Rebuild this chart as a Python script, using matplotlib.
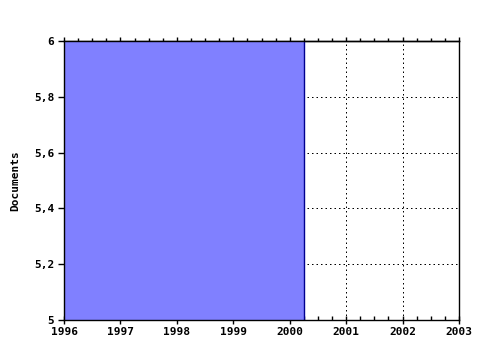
import matplotlib
matplotlib.use("Agg")
import matplotlib.pyplot as plt
from matplotlib.ticker import MultipleLocator, FixedLocator, NullFormatter

years = [1996, 1997, 1998, 1999, 2000, 2001, 2002, 2003]
area_x = [1996.0, 2000.25]
area_y = [6.0, 6.0]
yticks = [5.0, 5.2, 5.4, 5.6, 5.8, 6.0]
ylabels = ["5", "5,2", "5,4", "5,6", "5,8", "6"]

plt.rcParams['font.family'] = ['DejaVu Sans Mono']
fig = plt.figure(figsize=(4.8, 3.5), dpi=100)
ax = fig.add_axes([64/480, 1-320/350, (459-64)/480, (320-41)/350])

ax.fill_between(area_x, 5.0, area_y, facecolor='#8080FF', edgecolor='none', zorder=2)
ax.plot([area_x[-1], area_x[-1]], [5.0, area_y[-1]], color='#000090', lw=1, zorder=3)

ax.set_xlim(years[0], years[-1])
ax.set_ylim(yticks[0], yticks[-1])
ax.xaxis.set_major_locator(FixedLocator(years))
ax.xaxis.set_minor_locator(MultipleLocator(0.25))
ax.set_xticklabels([str(y) for y in years], fontsize=8, fontweight='bold')
ax.set_yticks(yticks)
ax.set_yticklabels(ylabels, fontsize=8, fontweight='bold')
ax.grid(True, which='major', color='black', linestyle=(0, (1.5, 3)), lw=0.72, zorder=1)
ax.set_axisbelow(True)
ax.tick_params(axis='x', which='major', direction='inout', length=6, width=1, pad=2)
ax.tick_params(axis='x', which='minor', direction='in', length=3, width=1)
ax.tick_params(axis='y', which='major', direction='out', length=4, width=1, pad=3)
for s in ax.spines.values():
    s.set_linewidth(1)
    s.set_zorder(4)
ax.set_ylabel("Documents", fontsize=8, fontweight='bold', labelpad=10)

top = ax.secondary_xaxis('top')
top.xaxis.set_major_locator(FixedLocator(years))
top.xaxis.set_minor_locator(MultipleLocator(0.25))
top.xaxis.set_major_formatter(NullFormatter())
top.tick_params(axis='x', which='major', direction='out', length=3, width=1)
top.tick_params(axis='x', which='minor', direction='out', length=2, width=1)
top.spines['top'].set_linewidth(1)

fig.savefig("out.png", dpi=100)
